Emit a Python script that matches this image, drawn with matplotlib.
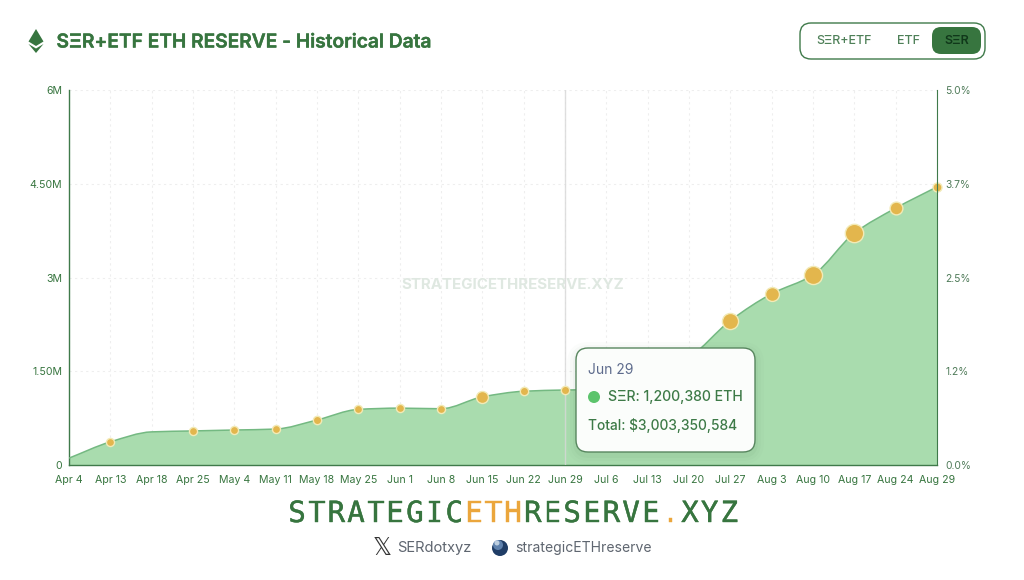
import matplotlib
matplotlib.use("Agg")
import matplotlib.pyplot as plt
import matplotlib.patheffects as pe
from matplotlib.patches import FancyBboxPatch, Polygon, Circle, PathPatch
from matplotlib.path import Path

plt.rcParams['font.family'] = ['Inter', 'DejaVu Sans']

# --- data ---
dates = ["Apr 4", "Apr 13", "Apr 18", "Apr 25", "May 4", "May 11", "May 18", "May 25",
         "Jun 1", "Jun 8", "Jun 15", "Jun 22", "Jun 29", "Jul 6", "Jul 13", "Jul 20",
         "Jul 27", "Aug 3", "Aug 10", "Aug 17", "Aug 24", "Aug 29"]
ser_eth = [0.11, 0.37, 0.53, 0.545, 0.56, 0.575, 0.72, 0.89,
           0.91, 0.90, 1.09, 1.18, 1.20, 1.21, 1.40, 1.72,
           2.31, 2.74, 3.04, 3.71, 4.11, 4.45]
# bubble area per date, None where no bubble shows
bubble = [None, 34, None, 34, 34, 34, 36, 34,
          34, 34, 75, 36, 36, None, None, None,
          135, 100, 170, 175, 85, 42]
left_ticks = [0, 1.5, 3, 4.5, 6]
left_labels = ["0", "1.50M", "3M", "4.50M", "6M"]
right_labels = ["0.0%", "1.2%", "2.5%", "3.7%", "5.0%"]

GREEN = "#37753f"
AXIS = "#3f7a4a"
FILL = "#a9dcae"
GOLD = "#e3b64d"

W, H = 1024, 580


def smooth_verts(xs, ys):
    # monotone cubic through the points, as bezier segments
    n = len(xs)
    slopes = [ys[i + 1] - ys[i] for i in range(n - 1)]
    tang = [slopes[0]] + [0.0] * (n - 2) + [slopes[-1]]
    for i in range(1, n - 1):
        a, b = slopes[i - 1], slopes[i]
        tang[i] = 2 * a * b / (a + b) if a * b > 0 else 0.0
    verts = [(xs[0], ys[0])]
    for i in range(n - 1):
        verts.append((xs[i] + 1 / 3, ys[i] + tang[i] / 3))
        verts.append((xs[i + 1] - 1 / 3, ys[i + 1] - tang[i + 1] / 3))
        verts.append((xs[i + 1], ys[i + 1]))
    return verts


fig = plt.figure(figsize=(W / 100, H / 100), dpi=100, facecolor="white")

# chart
ax = fig.add_axes([69 / W, 1 - 465 / H, 868 / W, 375 / H])
x = list(range(len(dates)))
curve = smooth_verts(x, ser_eth)
line_codes = [Path.MOVETO] + [Path.CURVE4] * (len(curve) - 1)
area = Path(curve + [(x[-1], 0), (x[0], 0), curve[0]],
            line_codes + [Path.LINETO, Path.LINETO, Path.CLOSEPOLY])
ax.add_patch(PathPatch(area, fc=FILL, ec="none", zorder=2))
ax.add_patch(PathPatch(Path(curve, line_codes), fc="none", ec="#74b982", lw=1.1, zorder=3))
for i, s in zip(x, bubble):
    if s is not None:
        ax.scatter(i, ser_eth[i], s=s, color=GOLD, edgecolors="#f2eab6", linewidths=1, zorder=5, clip_on=False)
ax.set_xlim(0, len(dates) - 1)
ax.set_ylim(0, 6)
ax.set_xticks(x)
ax.set_xticklabels(dates, fontsize=7.6, color=GREEN)
ax.set_yticks(left_ticks)
ax.set_yticklabels(left_labels, fontsize=7.6, color=GREEN)
ax.tick_params(axis="x", length=0, pad=7)
ax.tick_params(axis="y", length=0, pad=5)
ax.grid(True, color="#eeeeee", lw=0.8, ls=(0, (2, 3)), zorder=1)
ax.set_axisbelow(True)
ax.spines["top"].set_visible(False)
ax.spines["right"].set_visible(False)
for side in ["left", "bottom"]:
    ax.spines[side].set_color(AXIS)
    ax.spines[side].set_linewidth(1)

ax2 = ax.twinx()
ax2.set_ylim(0, 6)
ax2.set_yticks(left_ticks)
ax2.set_yticklabels(right_labels, fontsize=7.4, color="#4e7a58")
ax2.tick_params(axis="y", length=0, pad=6)
ax2.spines["top"].set_visible(False)
ax2.spines["left"].set_visible(False)
ax2.spines["bottom"].set_visible(False)
ax2.spines["right"].set_color(AXIS)

# hover line on Jun 29
ax.axvline(dates.index("Jun 29"), color="#d8d8d8", lw=1, zorder=4, alpha=0.8)

# overlay in pixel coordinates for title, buttons, tooltip, footer
ov = fig.add_axes([0, 0, 1, 1], zorder=10)
ov.set_xlim(0, W)
ov.set_ylim(H, 0)
ov.axis("off")
ov.patch.set_alpha(0)

# eth icon
ov.add_patch(Polygon([(36, 29), (43.5, 41.5), (36, 46), (28.5, 41.5)], color=GREEN, lw=0))
ov.add_patch(Polygon([(28.5, 44), (36, 48.5), (43.5, 44), (36, 53)], color=GREEN, lw=0))
ov.text(56.5, 42.5, "SΞR+ETF ETH RESERVE - Historical Data", fontsize=13.8, fontweight="semibold",
        color=GREEN, va="center", ha="left",
        path_effects=[pe.withStroke(linewidth=0.3, foreground=GREEN)])

# toggle buttons
ov.add_patch(FancyBboxPatch((800, 23), 185, 36, boxstyle="round,pad=0,rounding_size=11",
                            fc="white", ec=AXIS, lw=1))
ov.add_patch(FancyBboxPatch((932, 27), 49, 27, boxstyle="round,pad=0,rounding_size=9",
                            fc="#37753f", ec="none"))
ov.text(844.5, 40.5, "SΞR+ETF", fontsize=9, fontweight="medium", color="#4e8058", ha="center", va="center")
ov.text(908, 40.5, "ETF", fontsize=9, fontweight="medium", color="#4e8058", ha="center", va="center")
ov.text(956.5, 40.5, "SΞR", fontsize=9, fontweight="semibold", color="#10381a", ha="center", va="center")

# watermark
ov.text(513, 285, "STRATEGICETHRESERVE.XYZ", fontsize=10.85, fontweight="bold", color="#dfe8e1",
        ha="center", va="center")

# tooltip
for grow, a in [(9, 0.015), (6, 0.025), (3, 0.035)]:
    ov.add_patch(FancyBboxPatch((576 - grow, 348 - grow + 3), 179 + 2 * grow, 104 + 2 * grow,
                                boxstyle="round,pad=0,rounding_size=%d" % (13 + grow),
                                fc="#2d5a35", ec="none", alpha=a))
ov.add_patch(FancyBboxPatch((576, 348), 179, 104, boxstyle="round,pad=0,rounding_size=12",
                            fc="#fbfdfb", ec="#58865f", lw=1))
ov.text(588, 369.5, "Jun 29", fontsize=10, color="#5d6b8c", ha="left", va="center")
ov.add_patch(Circle((594, 397), 6, fc="#5cc46c", ec="none"))
ov.text(608, 397.5, "SΞR: 1,200,380 ETH", fontsize=10.15, fontweight="medium", color="#3d7a47", ha="left", va="center")
ov.text(588.5, 425.5, "Total: $3,003,350,584", fontsize=9.9, fontweight="medium", color="#3d7a47", ha="left", va="center")

# footer logo, one letter cell at a time in a mono font
logo_parts = [("STRATEGIC", "#37753f"), ("ETH", "#eba63c"), ("RESERVE", "#37753f"), (".", "#eba63c"), ("XYZ", "#37753f")]
cx = 297
step = 19.65
for part, col in logo_parts:
    for ch in part:
        ov.text(cx, 514, ch, fontsize=21, family="DejaVu Sans Mono", color=col, ha="center", va="center",
                path_effects=[pe.withStroke(linewidth=0.3, foreground=col)])
        cx += step

# footer links
ov.text(382.5, 548, "\U0001D54F", fontsize=17, family="DejaVu Sans", color="#333333", ha="center", va="center")
ov.text(397, 548, "SERdotxyz", fontsize=10.6, color="#5f6670", ha="left", va="center")
ov.add_patch(Circle((500, 548), 8, fc="#1f3d66", ec="none"))
ov.add_patch(Circle((498, 545), 5, fc="#6f93c0", ec="none", alpha=0.8))
ov.add_patch(Circle((497, 543), 2.5, fc="#d5e2ee", ec="none", alpha=0.8))
ov.text(515, 548, "strategicETHreserve", fontsize=10.1, color="#5f6670", ha="left", va="center")

fig.savefig("out.png", dpi=100, facecolor="white")
